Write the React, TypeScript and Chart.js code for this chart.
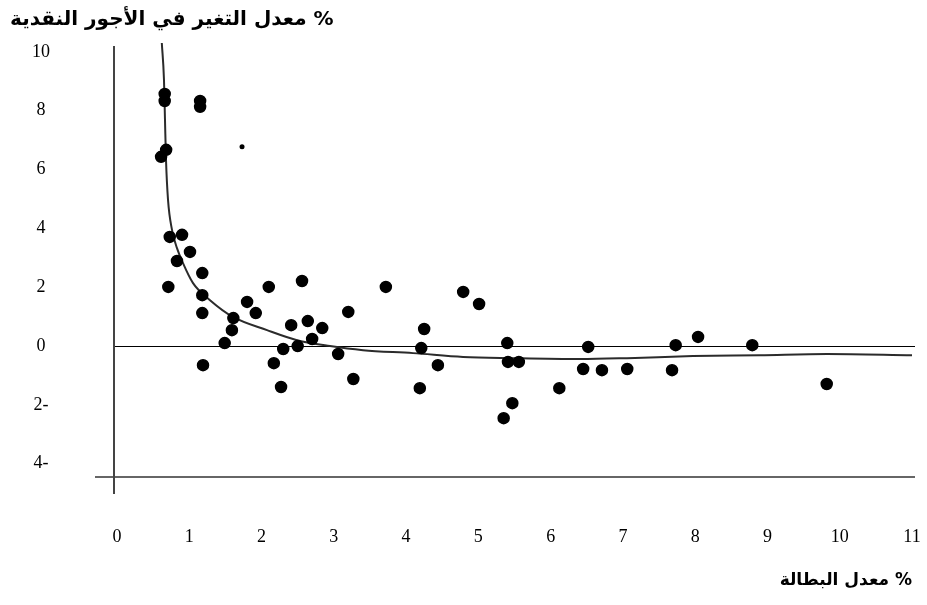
import React, { useEffect, useRef } from "react";
import { Chart, registerables } from "chart.js";

Chart.register(...registerables);

const yAxisTitle = "معدل التغير في الأجور النقدية %";
const xAxisTitle = "معدل البطالة %";

const xTickValues = [0, 1, 2, 3, 4, 5, 6, 7, 8, 9, 10, 11];
const xTickLabels = ["0", "1", "2", "3", "4", "5", "6", "7", "8", "9", "10", "11"];
const yTickValues = [-4, -2, 0, 2, 4, 6, 8, 10];
const yTickLabels = ["4-", "2-", "0", "2", "4", "6", "8", "10"];

// observations: unemployment rate (%) and money wage change (%)
const unemployment = [
  0.66, 0.66, 1.15, 1.15, 0.68, 0.61, 0.73, 0.9, 1.01, 0.83, 1.18, 0.71, 1.18, 1.18,
  1.8, 1.92, 1.61, 1.59, 1.49, 1.19, 2.1, 2.56, 3.72, 2.41, 2.64, 2.84, 2.7, 2.5, 2.3,
  2.17, 2.27, 3.06, 3.2, 3.27, 4.79, 5.01, 4.25, 4.21, 4.44, 4.19, 5.4, 5.41, 5.56,
  5.47, 5.35, 6.12, 6.45, 6.52, 6.71, 7.06, 7.73, 8.04, 7.68, 8.79, 9.82,
];
const wageChange = [
  8.57, 8.33, 8.33, 8.13, 6.67, 6.43, 3.71, 3.78, 3.2, 2.89, 2.48, 2.01, 1.73, 1.12,
  1.5, 1.12, 0.95, 0.54, 0.1, -0.65, 2.01, 2.21, 2.01, 0.71, 0.85, 0.61, 0.24, 0.0, -0.1,
  -0.58, -1.39, -0.27, 1.16, -1.12, 1.84, 1.43, 0.58, -0.07, -0.65, -1.43, 0.1, -0.54, -0.54,
  -1.94, -2.45, -1.43, -0.78, -0.03, -0.82, -0.78, 0.03, 0.31, -0.82, 0.03, -1.29,
];
// one small isolated observation
const smallUnemployment = [1.73];
const smallWageChange = [6.77];

// fitted Phillips curve
const curveX = [
  0.62, 0.65, 0.664, 0.678, 0.706, 0.761, 0.83, 0.913, 1.052, 1.287, 1.605, 2.076, 2.491,
  2.947, 3.404, 4.096, 4.788, 5.48, 6.407, 7.057, 7.97, 8.897, 9.824, 11.0,
];
const curveY = [
  10.3, 9.05, 7.69, 6.33, 4.97, 3.95, 3.33, 2.82, 2.14, 1.56, 0.99, 0.54, 0.2,
  0.0, -0.14, -0.24, -0.37, -0.41, -0.44, -0.41, -0.34, -0.31, -0.27, -0.31,
];

const axisLines = {
  id: "axisLines",
  beforeDatasetsDraw(chart: any) {
    const { ctx, chartArea, scales } = chart;
    const { left, right, top, bottom } = chartArea;
    const y0 = Math.round(scales.y.getPixelForValue(0)) + 0.5;
    ctx.save();
    ctx.strokeStyle = "#000";
    ctx.lineWidth = 1;
    ctx.beginPath();
    ctx.moveTo(left - 4, y0);
    ctx.lineTo(right + 3, y0);
    ctx.stroke();
    ctx.strokeStyle = "#333";
    ctx.lineWidth = 1.5;
    ctx.beginPath();
    ctx.moveTo(left - 22, bottom);
    ctx.lineTo(right + 3, bottom);
    ctx.stroke();
    ctx.strokeStyle = "#444";
    ctx.lineWidth = 2;
    ctx.beginPath();
    ctx.moveTo(left - 3, top + 3);
    ctx.lineTo(left - 3, bottom + 17);
    ctx.stroke();
    ctx.restore();
  },
};

export default function App() {
  const canvasRef = useRef<HTMLCanvasElement | null>(null);

  useEffect(() => {
    document.body.style.margin = "0";
    const canvas = canvasRef.current;
    if (!canvas) return;
    const chart = new Chart(canvas, {
      type: "scatter",
      data: {
        datasets: [
          {
            label: "curve",
            data: curveX.map((x, i) => ({ x, y: curveY[i] })),
            showLine: true,
            borderColor: "#2b2b2b",
            borderWidth: 2,
            pointRadius: 0,
            tension: 0.4,
            cubicInterpolationMode: "monotone",
            order: 2,
          } as any,
          {
            label: "obs",
            data: unemployment.map((x, i) => ({ x, y: wageChange[i] })),
            pointRadius: 5.5,
            pointStyle: "circle",
            backgroundColor: "#000",
            borderColor: "#000",
            borderWidth: 1.5,
            order: 1,
          },
          {
            label: "obs-small",
            data: smallUnemployment.map((x, i) => ({ x, y: smallWageChange[i] })),
            pointRadius: 2.5,
            backgroundColor: "#000",
            borderColor: "#000",
            borderWidth: 0,
            order: 1,
          },
        ],
      },
      options: {
        animation: false,
        responsive: false,
        layout: { padding: { left: 10, right: 15, top: 0, bottom: 0 } },
        plugins: {
          legend: { display: false },
          tooltip: { enabled: false },
          title: {
            display: true,
            text: yAxisTitle,
            align: "start",
            color: "#000",
            font: { family: "DejaVu Sans", size: 20, weight: "bold" },
            padding: { top: 8, bottom: 11 },
          },
        },
        scales: {
          x: {
            type: "linear",
            min: 0,
            max: 11,
            afterBuildTicks: (s: any) => {
              s.ticks = xTickValues.map((v) => ({ value: v }));
            },
            afterFit: (s: any) => {
              s.height = 128;
              s.paddingLeft = 0;
              s.paddingRight = 0;
            },
            ticks: {
              callback: (v: any) => xTickLabels[xTickValues.indexOf(Number(v))],
              font: { family: "Liberation Serif", size: 18 },
              color: "#000",
              padding: 49,
              maxRotation: 0,
              autoSkip: false,
            },
            grid: { display: false, drawTicks: false },
            border: { display: false },
            title: {
              display: true,
              text: xAxisTitle,
              align: "end",
              color: "#000",
              font: { family: "DejaVu Sans", size: 17, weight: "bold" },
              padding: { top: 0, bottom: 14 },
            },
          },
          y: {
            type: "linear",
            min: -4.45,
            max: 10.3,
            afterBuildTicks: (s: any) => {
              s.ticks = yTickValues.map((v) => ({ value: v }));
            },
            afterFit: (s: any) => {
              s.width = 107;
              s.paddingTop = 0;
              s.paddingBottom = 0;
            },
            ticks: {
              callback: (v: any) => yTickLabels[yTickValues.indexOf(Number(v))],
              font: { family: "Liberation Serif", size: 18 },
              color: "#000",
              crossAlign: "center",
              padding: 67,
              autoSkip: false,
            },
            grid: { display: false, drawTicks: false },
            border: { display: false },
          },
        },
      },
      plugins: [axisLines],
    });
    return () => chart.destroy();
  }, []);

  return (
    <div style={{ position: "absolute", left: 0, top: 0, width: 927, height: 605, background: "#fff" }}>
      <canvas ref={canvasRef} width={927} height={605} style={{ display: "block" }} />
    </div>
  );
}
